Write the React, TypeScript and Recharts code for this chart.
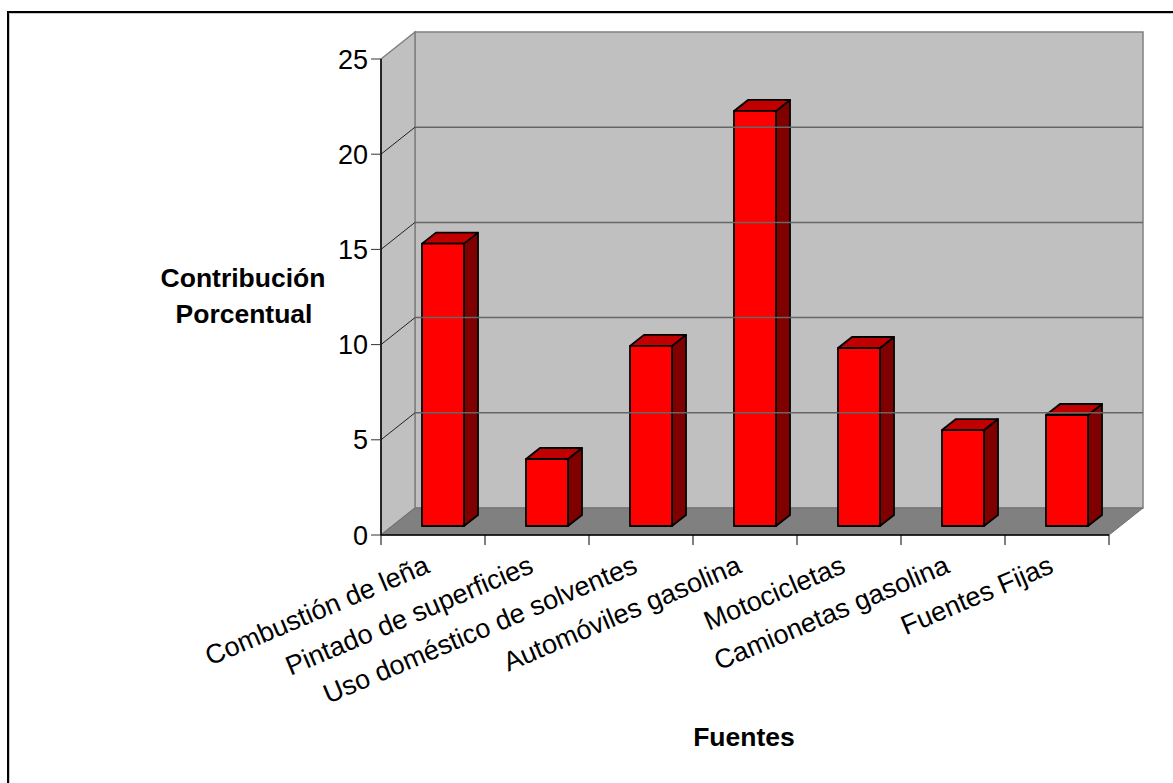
import React from "react";
import { BarChart, Bar, XAxis, YAxis, ReferenceArea, ReferenceLine } from "recharts";

const categories = ["Combustión de leña", "Pintado de superficies", "Uso doméstico de solventes", "Automóviles gasolina", "Motocicletas", "Camionetas gasolina", "Fuentes Fijas"];
const values = [14.83, 3.52, 9.46, 21.8, 9.35, 5.04, 5.83];
const yTicks = [0, 5, 10, 15, 20, 25];
const gridTicks = [5, 10, 15, 20];

const rows = categories.map((name, i) => ({ name, value: values[i] }));

const DX = 34;
const DY = -27;
const FONT = "'Liberation Sans', Arial, sans-serif";

const Walls = (p: any) => {
  const { x, y, width: w, height: h } = p;
  const b = y + h;
  const r = x + w;
  return (
    <g>
      <polygon points={`${x + DX},${y + DY} ${r + DX},${y + DY} ${r + DX},${b + DY} ${x + DX},${b + DY}`} fill="#C0C0C0" stroke="#808080" strokeWidth={1.5} />
      <polygon points={`${x},${y} ${x + DX},${y + DY} ${x + DX},${b + DY} ${x},${b}`} fill="#C0C0C0" stroke="#808080" strokeWidth={1.5} />
      <polygon points={`${x},${b} ${x + DX},${b + DY} ${r + DX},${b + DY} ${r},${b}`} fill="#808080" stroke="#707070" strokeWidth={1} />
    </g>
  );
};

const GridLine = (p: any) => {
  const { x1, x2, y1, y2 } = p;
  return (
    <g>
      <line x1={x1} y1={y1} x2={x1 + DX} y2={y1 + DY} stroke="#222" strokeWidth={1} />
      <line x1={x1 + DX} y1={y2 + DY} x2={x2 + DX} y2={y2 + DY} stroke="#666" strokeWidth={1.5} />
    </g>
  );
};

const Bar3D = (p: any) => {
  const { x, y, width: w, height: h } = p;
  const sx = 10, sy = -9, dx = 14, dy = -11;
  const l = x + sx, t = y + sy, r = l + w, b = t + h;
  return (
    <g stroke="#000" strokeWidth={1.8} strokeLinejoin="round">
      <polygon points={`${r},${t} ${r + dx},${t + dy} ${r + dx},${b + dy} ${r},${b}`} fill="#800000" />
      <polygon points={`${l},${t} ${l + dx},${t + dy} ${r + dx},${t + dy} ${r},${t}`} fill="#C00000" />
      <rect x={l} y={t} width={w} height={h} fill="#FF0000" />
    </g>
  );
};

const CatTick = (p: any) => {
  const { x, y, payload, index, width } = p;
  const step = width / categories.length;
  const ty = y + 27;
  const tx = x - 2;
  const axisY = y - 10;
  return (
    <g>
      <line x1={x - step / 2} y1={axisY} x2={x - step / 2} y2={axisY + 10} stroke="#000" />
      {index === categories.length - 1 && (
        <line x1={x + step / 2} y1={axisY} x2={x + step / 2} y2={axisY + 10} stroke="#000" />
      )}
      <text x={tx} y={ty} transform={`rotate(-23 ${tx} ${ty})`} textAnchor="end" fontFamily={FONT} fontSize={27} fill="#000">
        {payload.value}
      </text>
    </g>
  );
};

export default function App() {
  return (
    <div style={{ position: "absolute", left: 0, top: 0, width: 1173, height: 783, background: "#fff", overflow: "hidden" }}>
      <div style={{ position: "absolute", left: 7, top: 11, width: 1200, height: 800, border: "2px solid #000", boxSizing: "border-box", boxShadow: "inset 1px 1px 0 #c8c8c8" }} />
      <div style={{ position: "absolute", left: 0, top: 0 }}>
        <BarChart
          width={1173}
          height={783}
          data={rows}
          margin={{ top: 59, left: 371, right: 64, bottom: 213 }}
          barCategoryGap={31}
        >
          <ReferenceArea y1={0} y2={25} shape={Walls} ifOverflow="visible" />
          {gridTicks.map((v) => (
            <ReferenceLine key={v} y={v} shape={GridLine} ifOverflow="visible" />
          ))}
          <XAxis
            dataKey="name"
            height={35}
            interval={0}
            tick={CatTick}
            tickSize={10}
            tickLine={false}
            tickMargin={0}
            axisLine={{ stroke: "#000", strokeWidth: 1.5 }}
          />
          <YAxis
            width={10}
            domain={[0, 25]}
            ticks={yTicks}
            tickSize={10}
            tickMargin={3}
            tick={{ fill: "#000", fontSize: 27, fontFamily: FONT }}
            tickLine={{ stroke: "#333" }}
            axisLine={{ stroke: "#000", strokeWidth: 1.5 }}
          />
          <Bar dataKey="value" shape={Bar3D} isAnimationActive={false} />
          <text x={243} y={287} textAnchor="middle" fontFamily={FONT} fontSize={26.5} fontWeight="bold">Contribución</text>
          <text x={244} y={323} textAnchor="middle" fontFamily={FONT} fontSize={26.5} fontWeight="bold">Porcentual</text>
          <text x={744} y={746} textAnchor="middle" fontFamily={FONT} fontSize={26.5} fontWeight="bold">Fuentes</text>
        </BarChart>
      </div>
    </div>
  );
}
